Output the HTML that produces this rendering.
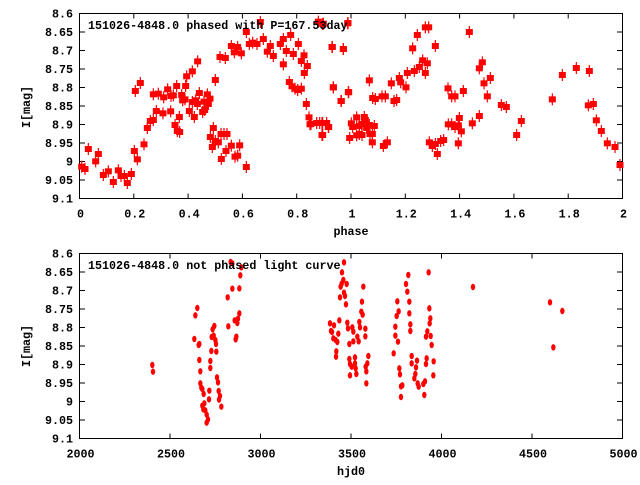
<!DOCTYPE html>
<html><head><meta charset="utf-8"><style>
body{margin:0;background:#fff}
svg text{font-family:"Liberation Mono",monospace;font-weight:bold;font-size:11.7px;fill:#000}
</style></head><body>
<svg id="s" width="640" height="480" xmlns="http://www.w3.org/2000/svg">
<g id="g"></g>
<text x="88" y="29">151026-4848.0 phased with P=167.53day</text>
<text x="88" y="269">151026-4848.0 not phased light curve</text>
<text transform="translate(30,107) rotate(-90)" text-anchor="middle">I[mag]</text>
<text transform="translate(30,346) rotate(-90)" text-anchor="middle">I[mag]</text>
<text x="351" y="235" text-anchor="middle">phase</text>
<text x="351" y="475" text-anchor="middle">hjd0</text>
</svg>
<script>
var NS="http://www.w3.org/2000/svg",g=document.getElementById('g');
function el(t,a){var e=document.createElementNS(NS,t);for(var k in a)e.setAttribute(k,a[k]);g.appendChild(e);return e;}
function txt(x,y,s,anc){var e=el('text',{x:x,y:y,'text-anchor':anc||'end'});e.textContent=s;}
function frame(top,bot,xl,xlabels){
  el('rect',{x:79.5,y:top,width:543,height:bot-top,fill:'none',stroke:'#000','stroke-width':1});
  var yl=['8.6','8.65','8.7','8.75','8.8','8.85','8.9','8.95','9','9.05','9.1'];
  for(var i=0;i<11;i++){var y=top+(bot-top)*i/10;
    el('line',{x1:79.5,y1:y,x2:85,y2:y,stroke:'#000'});el('line',{x1:622.5,y1:y,x2:617,y2:y,stroke:'#000'});
    txt(73,y+4,yl[i]);}
  var n=xlabels.length-1;
  for(var j=0;j<=n;j++){var x=79.5+543*j/n;
    el('line',{x1:x,y1:bot,x2:x,y2:bot-5,stroke:'#000'});el('line',{x1:x,y1:top,x2:x,y2:top+5,stroke:'#000'});
    txt(x+1,bot+19,xlabels[j],'middle');}
}
frame(13.5,198.5,0,['0','0.2','0.4','0.6','0.8','1','1.2','1.4','1.6','1.8','2']);
frame(253.5,438.5,0,['2000','2500','3000','3500','4000','4500','5000']);
var A=[245,500,255,507,265,447,287,484,295,462,310,525,325,514,340,546,355,511,363,528,373,528,382,549,394,522,403,453,412,478,406,273,421,249,432,433,442,384,451,363,460,360,469,333,460,283,475,281,489,340,491,292,503,268,512,334,513,288,520,286,525,375,532,393,539,396,538,351,530,258,545,285,548,301,555,298,557,258,560,229,568,333,577,306,583,351,587,301,592,312,593,184,598,279,577,214,608,336,612,305,614,330,622,283,625,312,630,296,631,411,640,384,637,441,646,423,655,427,663,402,672,402,681,402,664,477,678,453,694,437,705,470,713,467,719,436,739,501,646,240,660,171,676,174,694,138,703,157,713,141,724,160,739,96,748,132,758,128,771,132,781,66,790,117,802,155,811,138,820,168,841,132,850,117,850,193,859,153,872,105,880,162,895,132,904,183,912,166,913,219,922,198,919,312,927,352,933,372,868,246,876,259,885,266,893,270,904,266,930,373,950,369,959,369,966,369,985,381,966,405,996,141,1000,262,1023,303,1030,147,1045,276,1044,69,955,65,970,71];
var B=[8,72,37,141,70,147,83,70,40,262,64,303,86,277,8,369,20,369,26,381,8,405,94,370,98,381,89,414,110,352,110,406,118,378,118,402,126,405,125,372,133,351,136,360,140,384,148,375,150,402,157,402,157,427,163,378,148,241,158,294,166,297,186,289,196,289,190,438,202,427,214,250,222,303,230,300,238,234,242,247,258,262,262,219,283,213,298,201,278,145,292,105,308,181,316,219,322,190,316,82,326,82,346,138,328,427,337,438,346,432,352,462,362,423,371,420,384,265,395,289,405,289,385,373,395,373,405,381,415,376,418,354,424,394,430,273,415,430,448,96,457,370,478,348,478,205,487,187,492,250,502,289,511,234,544,315,559,321,590,405,604,363,697,298,727,225,769,204,808,213,805,316,820,312,829,361,844,393,862,430,885,441,900,495];
function sq(x,y){el('line',{x1:x,y1:y-6,x2:x,y2:y+6,stroke:'#f00','stroke-width':1.2});el('rect',{x:x-3.5,y:y-3,width:7,height:6,fill:'#f00'});}
for(var i=0;i<A.length;i+=2)sq(A[i]/3,A[i+1]/3);
for(var i=0;i<B.length;i+=2)sq(B[i]/3+320,B[i+1]/3);
var C=[457,375,459,395,586,226,592,204,583,297,596,315,598,312,598,360,601,394,601,430,604,443,607,447,611,462,607,497,610,508,613,490,616,511,620,524,620,548,624,538,627,478,628,452,631,363,631,384,634,333,635,291,638,268,641,287,643,258,646,300,648,312,649,335,651,412,654,427,656,453,657,479,660,468,664,500,683,172,685,259,692,66,697,70,697,146,704,241,707,298,712,249,714,236,718,220,718,145,721,106,724,82,709,290];
var D=[30,250,33,273,36,276,42,256,40,295,47,300,52,306,48,350,49,334,55,281,58,241,60,172,62,140,65,131,66,97,72,67,70,120,72,158,75,168,78,193,80,132,82,248,84,265,88,312,88,357,90,372,90,406,95,380,97,262,100,304,100,275,105,352,105,370,107,385,109,402,112,290,116,304,118,246,120,262,124,215,126,185,128,224,130,140,136,266,136,289,137,380,139,394,139,430,142,370,145,348,221,340,226,260,226,287,230,228,232,184,234,305,236,214,238,385,240,403,243,439,243,471,247,436,258,132,262,155,265,105,268,185,268,220,271,253,271,273,275,348,275,370,283,415,286,402,288,382,291,362,293,430,296,440,310,432,313,465,315,424,318,372,320,355,318,290,322,274,326,97,328,205,329,250,331,235,332,288,335,315,340,406,341,364,459,141,690,187,700,322,727,213];
function dot(x,y){el('ellipse',{cx:x,cy:y,rx:2.2,ry:3.2,fill:'#f00'});}
for(var i=0;i<C.length;i+=2)dot(C[i]/3,C[i+1]/3+240);
for(var i=0;i<D.length;i+=2)dot(D[i]/3+320,D[i+1]/3+240);
</script>
</body></html>
